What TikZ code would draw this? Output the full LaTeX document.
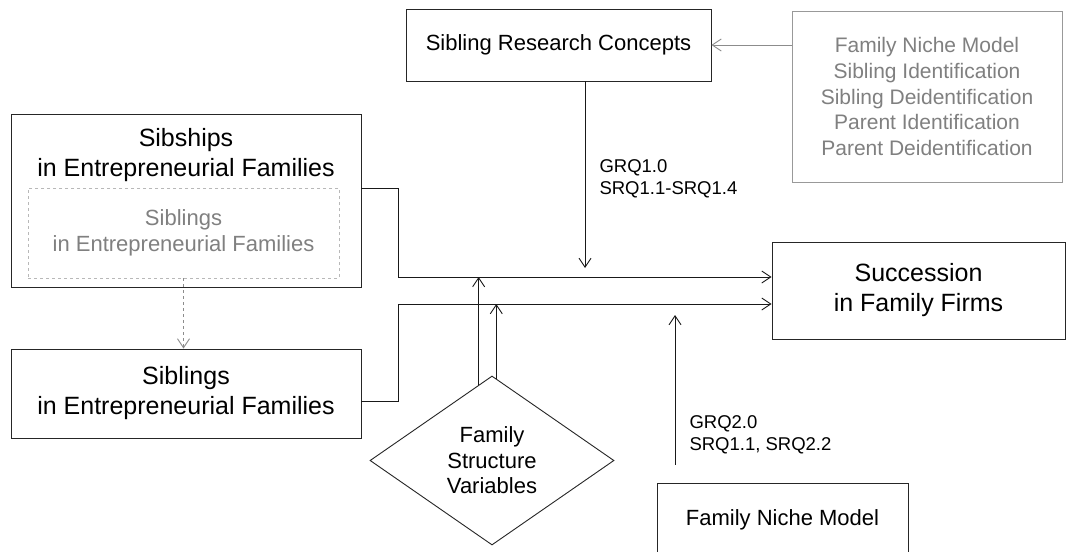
\documentclass[tikz,border=0pt]{standalone}
\usepackage{fontspec}
\setmainfont{Liberation Sans}
\usetikzlibrary{shapes.geometric,arrows.meta}

\begin{document}
\begin{tikzpicture}[x=1pt,y=-1pt,
    box/.style={draw=black!85, line width=0.9pt, inner sep=0pt, align=center},
    greybox/.style={draw=black!40, line width=0.9pt, inner sep=0pt, align=center, text=black!50},
    big/.style={font=\fontsize{25}{30}\selectfont},
    mid/.style={font=\fontsize{22}{26}\selectfont},
    small/.style={font=\fontsize{18.5}{22}\selectfont},
    link/.style={line width=0.9pt, draw=black!90},
    tip/.style={-{Straight Barb[length=9pt,width=12pt]}}]

    \clip (0,0) rectangle (1067,551);
    \fill[white] (0,0) rectangle (1067,551);

    % top row
    \node[box, mid, minimum width=305pt, minimum height=72pt] (src) at (558.5,45) {Sibling Research Concepts};
    \node[greybox, font=\fontsize{21}{25.7}\selectfont, minimum width=270pt, minimum height=171pt] (concepts) at (927,96.5)
        {Family Niche Model\\Sibling Identification\\Sibling Deidentification\\Parent Identification\\Parent Deidentification};
    \draw[link, draw=black!45, tip] (concepts.west |- src.east) -- (src.east);

    % sibships and siblings
    \node[box, minimum width=350pt, minimum height=173pt] (sibships) at (186,200.5) {};
    \node[big, align=center] (sibshipstext) at (186,155) {Sibships\\in Entrepreneurial Families};
    \node[greybox, draw=black!28, dashed, mid, minimum width=311pt, minimum height=90pt] (inner) at (183.5,233)
        {Siblings\\in Entrepreneurial Families};
    \node[box, big, minimum width=350pt, minimum height=89pt] (siblings) at (186,393.5) {Siblings\\in Entrepreneurial Families};
    \draw[link, draw=black!45, dashed, tip] (inner.south) -- (inner.south |- siblings.north);

    % outcome
    \node[box, big, minimum width=293pt, minimum height=97pt] (succession) at (918.5,290.5) {Succession\\in Family Firms};

    % family structure
    \node[draw=black!85, line width=0.9pt, diamond, inner sep=0pt, minimum width=244pt, minimum height=169pt,
        align=center, font=\fontsize{22}{25.5}\selectfont] (fsv) at (492,460.5) {Family\\Structure\\Variables};

    % family niche model
    \node[box, mid, minimum width=251pt, minimum height=74pt] (fnm) at (782.5,520) {Family Niche Model};

    % joins
    \coordinate (upper) at (398,277);
    \coordinate (lower) at (398,304);
    \coordinate (q1) at (585,268);
    \coordinate (q2) at (675,315);

    \draw[link, tip] (sibships.east |- 0,188) -| (upper) -- (upper -| succession.west);
    \draw[link, tip] ([yshift=-7.5pt]siblings.east) -| (lower) -- (lower -| succession.west);
    \draw[link, tip] (fsv.100.5) -- (fsv.100.5 |- upper);
    \draw[link, tip] (fsv.87) -- (fsv.87 |- lower);
    \draw[link, tip] (src.south -| q1) -- (q1);
    \draw[link, tip] ([yshift=18pt]fnm.north -| q2) -- (q2);

    % labels
    \node[small, align=left, anchor=west] (rq1) at (596,179) {GRQ1.0\\SRQ1.1-SRQ1.4};
    \node[small, align=left, anchor=west] (rq2) at (686,435) {GRQ2.0\\SRQ1.1, SRQ2.2};
\end{tikzpicture}
\end{document}
